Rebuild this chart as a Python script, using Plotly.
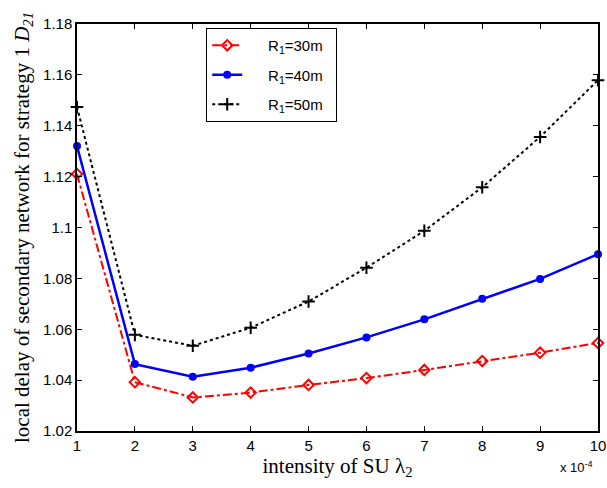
import plotly.graph_objects as go

x_vals = [1, 2, 3, 4, 5, 6, 7, 8, 9, 10]
r30 = [1.1210, 1.0392, 1.0332, 1.0351, 1.0381, 1.0408, 1.0440, 1.0475, 1.0508, 1.0546]
r40 = [1.1320, 1.0463, 1.0413, 1.0449, 1.0505, 1.0568, 1.0639, 1.0720, 1.0798, 1.0895]
r50 = [1.1474, 1.0578, 1.0535, 1.0606, 1.0709, 1.0842, 1.0987, 1.1158, 1.1356, 1.1579]
names = ["R<sub>1</sub>=30m", "R<sub>1</sub>=40m", "R<sub>1</sub>=50m"]
x_ticks = [1, 2, 3, 4, 5, 6, 7, 8, 9, 10]
y_ticks = [1.02, 1.04, 1.06, 1.08, 1.1, 1.12, 1.14, 1.16, 1.18]
y_tick_text = ["1.02", "1.04", "1.06", "1.08", "1.1", "1.12", "1.14", "1.16", "1.18"]

pad_l = "\u00a0" * 5
pad_r = "\u00a0" * 2

fig = go.Figure()
fig.add_trace(go.Scatter(x=x_vals, y=r30, name=pad_l + names[0] + pad_r, mode="lines+markers", legendgroup="a",
                         cliponaxis=False,
                         line=dict(color="#ff0000", width=2, dash="dashdot"),
                         marker=dict(symbol="diamond-open", size=8, color="#ff0000",
                                     line=dict(width=2, color="#ff0000"))))
fig.add_trace(go.Scatter(x=x_vals, y=r40, name=pad_l + names[1] + pad_r, mode="lines+markers", legendgroup="b",
                         cliponaxis=False,
                         line=dict(color="#0000ff", width=2.5),
                         marker=dict(symbol="circle", size=8, color="#0000ff")))
fig.add_trace(go.Scatter(x=x_vals, y=r50, name=pad_l + names[2] + pad_r, mode="lines+markers", legendgroup="c",
                         cliponaxis=False,
                         line=dict(color="#000000", width=2, dash="dot"),
                         marker=dict(symbol="cross-thin", size=9, color="#000000",
                                     line=dict(width=2, color="#000000"))))

axis_common = dict(showline=True, linecolor="black", linewidth=1.5, mirror="ticks",
                   ticks="inside", ticklen=5, tickcolor="black", showgrid=False,
                   zeroline=False, automargin=False,
                   tickfont=dict(family="Arial, Liberation Sans", size=15, color="black"))

fig.update_layout(
    width=607, height=488,
    margin=dict(l=77, r=9, t=24, b=57),
    paper_bgcolor="white", plot_bgcolor="white",
    xaxis=dict(range=[1, 10], tickvals=x_ticks, **axis_common,
               title=dict(text="intensity of SU λ<sub>2</sub>", standoff=0,
                          font=dict(family="Liberation Serif, Times New Roman", size=21, color="black"))),
    yaxis=dict(range=[1.02, 1.18], tickvals=y_ticks, ticktext=y_tick_text, **axis_common,
               title=dict(text="local delay of secondary network for strategy 1 <i>D</i><sub><i>21</i></sub>", standoff=8,
                          font=dict(family="Liberation Serif, Times New Roman", size=21, color="black"))),
    legend=dict(x=0.248, y=0.99, xanchor="left", yanchor="top",
                bgcolor="white", bordercolor="black", borderwidth=1,
                font=dict(family="Arial, Liberation Sans", size=15, color="black"),
                tracegroupgap=7),
    showlegend=True,
    annotations=[dict(text="x 10<sup>-4</sup>", xref="paper", yref="paper", x=0.995, y=-0.065,
                      xanchor="right", yanchor="top", showarrow=False,
                      font=dict(family="Arial, Liberation Sans", size=13, color="black"))],
)

fig.write_html("out.html", config={"displayModeBar": False},
               post_script="document.body.style.margin='0';document.body.style.overflow='hidden';")
